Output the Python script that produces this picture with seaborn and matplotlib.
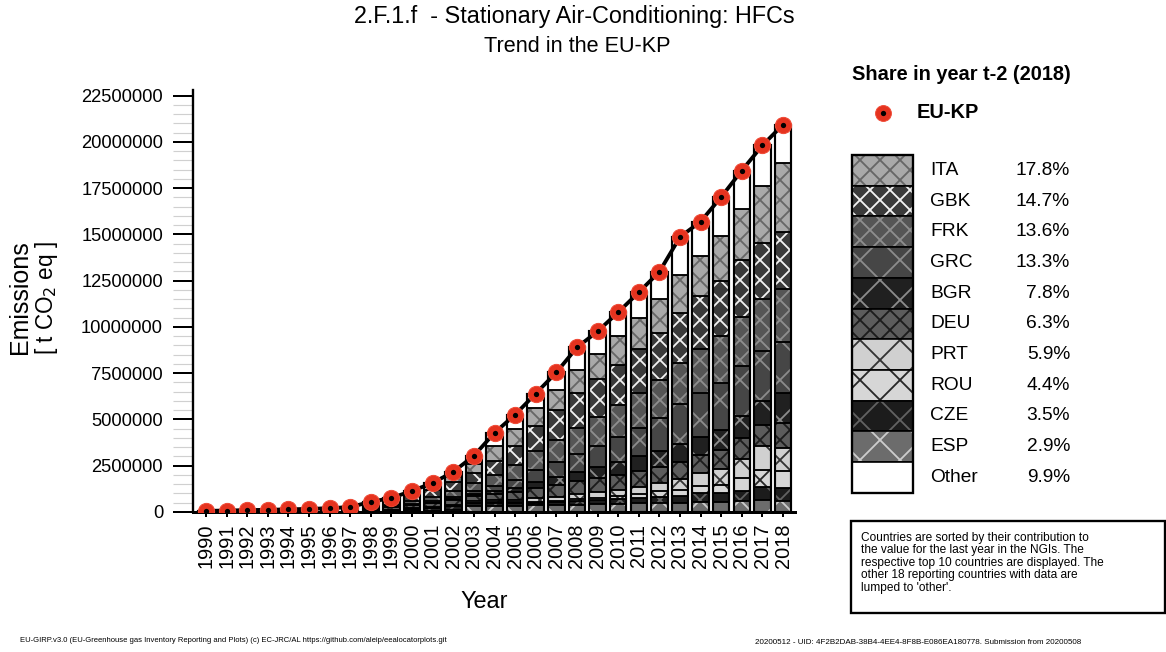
import numpy as np
import pandas as pd
import matplotlib.pyplot as plt
import seaborn as sns
from matplotlib.patches import Rectangle
from matplotlib.ticker import MultipleLocator, StrMethodFormatter

years = list(range(1990, 2019))

# emissions per country, Mt CO2 eq
ESP = [0, 0, 0, 0, 0.01, 0.01, 0.01, 0.01, 0.01, 0.02, 0.04, 0.06, 0.10, 0.30, 0.33,
       0.35, 0.37, 0.38, 0.40, 0.42, 0.44, 0.46, 0.48, 0.50, 0.56, 0.56, 0.60, 0.65, 0.59]
CZE = [0.01, 0.01, 0.01, 0.01, 0.01, 0.01, 0.02, 0.03, 0.07, 0.10, 0.14, 0.18, 0.22, 0.20, 0.18,
       0.15, 0.13, 0.14, 0.20, 0.22, 0.26, 0.30, 0.35, 0.38, 0.45, 0.45, 0.55, 0.72, 0.73]
ROU = [0, 0, 0, 0, 0, 0, 0, 0, 0, 0, 0, 0, 0.01, 0.01, 0.02,
       0.03, 0.05, 0.07, 0.10, 0.14, 0.18, 0.22, 0.28, 0.32, 0.38, 0.45, 0.68, 0.91, 0.92]
PRT = [0, 0, 0, 0, 0, 0, 0, 0, 0.01, 0.01, 0.02, 0.03, 0.05, 0.07, 0.10,
       0.14, 0.18, 0.22, 0.25, 0.28, 0.32, 0.38, 0.45, 0.60, 0.70, 0.85, 1.05, 1.26, 1.23]
DEU = [0.01, 0.02, 0.02, 0.02, 0.03, 0.03, 0.04, 0.05, 0.09, 0.12, 0.16, 0.20, 0.25, 0.30, 0.35,
       0.40, 0.58, 0.65, 0.70, 0.75, 0.80, 0.85, 0.88, 0.92, 0.98, 1.02, 1.10, 1.18, 1.32]
BGR = [0, 0, 0, 0, 0, 0, 0, 0, 0.01, 0.01, 0.02, 0.03, 0.05, 0.08, 0.14,
       0.22, 0.32, 0.42, 0.52, 0.62, 0.72, 0.80, 0.85, 0.95, 1.00, 1.10, 1.20, 1.26, 1.63]
GRC = [0, 0, 0, 0.01, 0.01, 0.01, 0.01, 0.01, 0.03, 0.04, 0.07, 0.10, 0.14, 0.20, 0.30,
       0.45, 0.62, 0.80, 0.98, 1.15, 1.35, 1.55, 1.80, 2.15, 2.35, 2.55, 2.70, 2.71, 2.78]
FRK = [0.01, 0.01, 0.02, 0.02, 0.02, 0.03, 0.03, 0.04, 0.07, 0.10, 0.15, 0.22, 0.30, 0.42, 0.58,
       0.80, 1.02, 1.20, 1.40, 1.55, 1.70, 1.85, 2.05, 2.25, 2.40, 2.55, 2.66, 2.81, 2.85]
GBK = [0.02, 0.02, 0.02, 0.03, 0.03, 0.04, 0.05, 0.07, 0.15, 0.20, 0.28, 0.38, 0.50, 0.55, 0.74,
       1.01, 1.36, 1.65, 1.88, 2.03, 2.19, 2.37, 2.55, 2.70, 2.85, 2.95, 3.06, 3.03, 3.08]
ITA = [0, 0.01, 0.01, 0.01, 0.01, 0.01, 0.01, 0.02, 0.04, 0.06, 0.10, 0.15, 0.25, 0.45, 0.80,
       0.91, 0.99, 1.08, 1.26, 1.35, 1.53, 1.72, 1.80, 2.03, 2.17, 2.44, 2.77, 3.07, 3.73]
Other = [0.01, 0.01, 0.02, 0.02, 0.02, 0.03, 0.03, 0.04, 0.07, 0.10, 0.16, 0.22, 0.30, 0.46, 0.74,
         0.80, 0.78, 0.93, 1.20, 1.25, 1.30, 1.37, 1.49, 2.06, 1.85, 2.10, 2.08, 2.21, 2.07]
EU_KP = [0.06, 0.08, 0.10, 0.12, 0.14, 0.17, 0.20, 0.27, 0.55, 0.76, 1.14, 1.57, 2.17, 3.04, 4.28,
         5.26, 6.40, 7.54, 8.89, 9.76, 10.79, 11.87, 12.98, 14.86, 15.69, 17.02, 18.45, 19.81, 20.93]

legend_names = ['ITA', 'GBK', 'FRK', 'GRC', 'BGR', 'DEU', 'PRT', 'ROU', 'CZE', 'ESP', 'Other']
shares = [17.8, 14.7, 13.6, 13.3, 7.8, 6.3, 5.9, 4.4, 3.5, 2.9, 9.9]

df = pd.DataFrame({'ESP': ESP, 'CZE': CZE, 'ROU': ROU, 'PRT': PRT, 'DEU': DEU, 'BGR': BGR,
                   'GRC': GRC, 'FRK': FRK, 'GBK': GBK, 'ITA': ITA, 'Other': Other},
                  index=years) * 1e6
total = pd.Series(EU_KP, index=years) * 1e6
stack_order = legend_names[::-1][1:] + ['Other']

# face colour, hatch colour, hatch
styles = {
    'ITA': ('#a9a9a9', '#666666', 'xx'),
    'GBK': ('#3a3a3a', '#f2f2f2', 'xx'),
    'FRK': ('#555555', '#8e8e8e', 'xx'),
    'GRC': ('#464646', '#8c8c8c', 'x'),
    'BGR': ('#202020', '#8c8c8c', 'x'),
    'DEU': ('#5c5c5c', '#1c1c1c', 'xx'),
    'PRT': ('#d0d0d0', '#333333', 'x'),
    'ROU': ('#d6d6d6', '#262626', 'x'),
    'CZE': ('#1c1c1c', '#626262', 'x'),
    'ESP': ('#6c6c6c', '#cccccc', 'x'),
    'Other': ('#ffffff', '#ffffff', None),
}

sns.set_theme(style='ticks')
plt.rcParams['font.family'] = ['Liberation Sans', 'DejaVu Sans']
plt.rcParams['hatch.linewidth'] = 1.1
for k in ['text.color', 'axes.labelcolor', 'xtick.color', 'ytick.color', 'axes.edgecolor']:
    plt.rcParams[k] = 'black'
narrow = ['Liberation Sans Narrow', 'Liberation Sans']

W, H = 1166, 652
fig = plt.figure(figsize=(W / 120, H / 120), dpi=120)
ax = fig.add_axes([193 / W, 1 - 512 / H, (795 - 193) / W, (512 - 90) / H])

bottom = np.zeros(len(years))
for c in stack_order:
    face, hc, h = styles[c]
    ax.bar(years, df[c], bottom=bottom, width=0.8, color=face, edgecolor=hc, hatch=h, linewidth=0, zorder=2)
    ax.bar(years, df[c], bottom=bottom, width=0.8, fill=False, edgecolor='black', linewidth=0.9, zorder=3)
    bottom += df[c].values
ax.bar(years, total, width=0.8, fill=False, edgecolor='black', linewidth=1.3, zorder=3)

sns.lineplot(x=years, y=total.values, color='black', linewidth=2.3, ax=ax, zorder=4)
sns.scatterplot(x=years, y=total.values, s=95, color='#e5331f', edgecolor='#f04a36', linewidth=0.6, ax=ax, zorder=5)
sns.scatterplot(x=years, y=total.values, s=10, color='black', linewidth=0, ax=ax, zorder=6)

ax.set_xlim(1989.37, 2018.58)
ax.set_ylim(0, 22.8e6)
ax.set_xticks(years)
ax.set_xticklabels([str(y) for y in years], rotation=90, fontsize=12)
ax.yaxis.set_major_locator(MultipleLocator(2.5e6))
ax.yaxis.set_minor_locator(MultipleLocator(5e5))
ax.yaxis.set_major_formatter(StrMethodFormatter('{x:.0f}'))
ax.tick_params(axis='y', which='major', length=12, width=1.2, pad=6, labelsize=11, color='black')
ax.tick_params(axis='y', which='minor', length=12, width=0.7, color='#d0d0d0')
ax.tick_params(axis='x', length=3, width=1.2, pad=4)
for s in ['top', 'right']:
    ax.spines[s].set_visible(False)
ax.spines['left'].set_linewidth(1.4)
ax.spines['bottom'].set_linewidth(1.8)
ax.set_xlabel('')
ax.set_ylabel('')

# overlay in pixel coordinates for titles, legend and notes
lax = fig.add_axes([0, 0, 1, 1])
lax.set_xlim(0, W)
lax.set_ylim(H, 0)
lax.axis('off')

lax.text(574, 16, '2.F.1.f  - Stationary Air-Conditioning: HFCs', ha='center', va='center', fontsize=14, family=narrow)
lax.text(577, 46, 'Trend in the EU-KP', ha='center', va='center', fontsize=13, family=narrow)
lax.text(20, 297, 'Emissions', ha='center', va='center', rotation=90, fontsize=15)
lax.text(46, 298, '[ t CO$_2$ eq ]', ha='center', va='center', rotation=90, fontsize=13.5)
lax.text(484, 601, 'Year', ha='center', va='center', fontsize=14, family=narrow)

lax.text(852, 75, 'Share in year t-2 (2018)', ha='left', va='center', fontsize=12, fontweight='bold', family=narrow)
lax.scatter([883], [113], s=90, color='#e5331f', edgecolor='#f04a36', linewidth=0.6)
lax.scatter([883], [113], s=10, color='black', linewidth=0)
lax.text(917, 113, 'EU-KP', ha='left', va='center', fontsize=12, fontweight='bold')

top, row_h, bx, bw = 155, 30.7, 852, 61
for i, (name, sh) in enumerate(zip(legend_names, shares)):
    face, hc, h = styles[name]
    y0 = top + i * row_h
    lax.add_patch(Rectangle((bx, y0), bw, row_h, facecolor=face, edgecolor=hc, hatch=h, linewidth=0))
    lax.add_patch(Rectangle((bx, y0), bw, row_h, fill=False, edgecolor='black', linewidth=1.0))
    lax.text(930, y0 + row_h / 2, name, ha='left', va='center', fontsize=11.5)
    lax.text(1070, y0 + row_h / 2, f'{sh:.1f}%', ha='right', va='center', fontsize=11.5)
lax.add_patch(Rectangle((bx, top), bw, row_h * len(legend_names), fill=False, edgecolor='black', linewidth=1.4))

lax.add_patch(Rectangle((851, 521), 314, 92, fill=False, edgecolor='black', linewidth=1.4))
note = ("Countries are sorted by their contribution to\n"
        "the value for the last year in the NGIs. The\n"
        "respective top 10 countries are displayed. The\n"
        "other 18 reporting countries with data are\n"
        "lumped to 'other'.")
lax.text(861, 532, note, ha='left', va='top', fontsize=7.1, linespacing=1.05)

lax.text(20, 641, 'EU-GIRP.v3.0 (EU-Greenhouse gas Inventory Reporting and Plots) (c) EC-JRC/AL https://github.com/aleip/eealocatorplots.git',
         ha='left', va='center', fontsize=4.6)
lax.text(755, 643, '20200512 - UID: 4F2B2DAB-38B4-4EE4-8F8B-E086EA180778. Submission from 20200508',
         ha='left', va='center', fontsize=4.8)

fig.savefig('out.png', dpi=120)
